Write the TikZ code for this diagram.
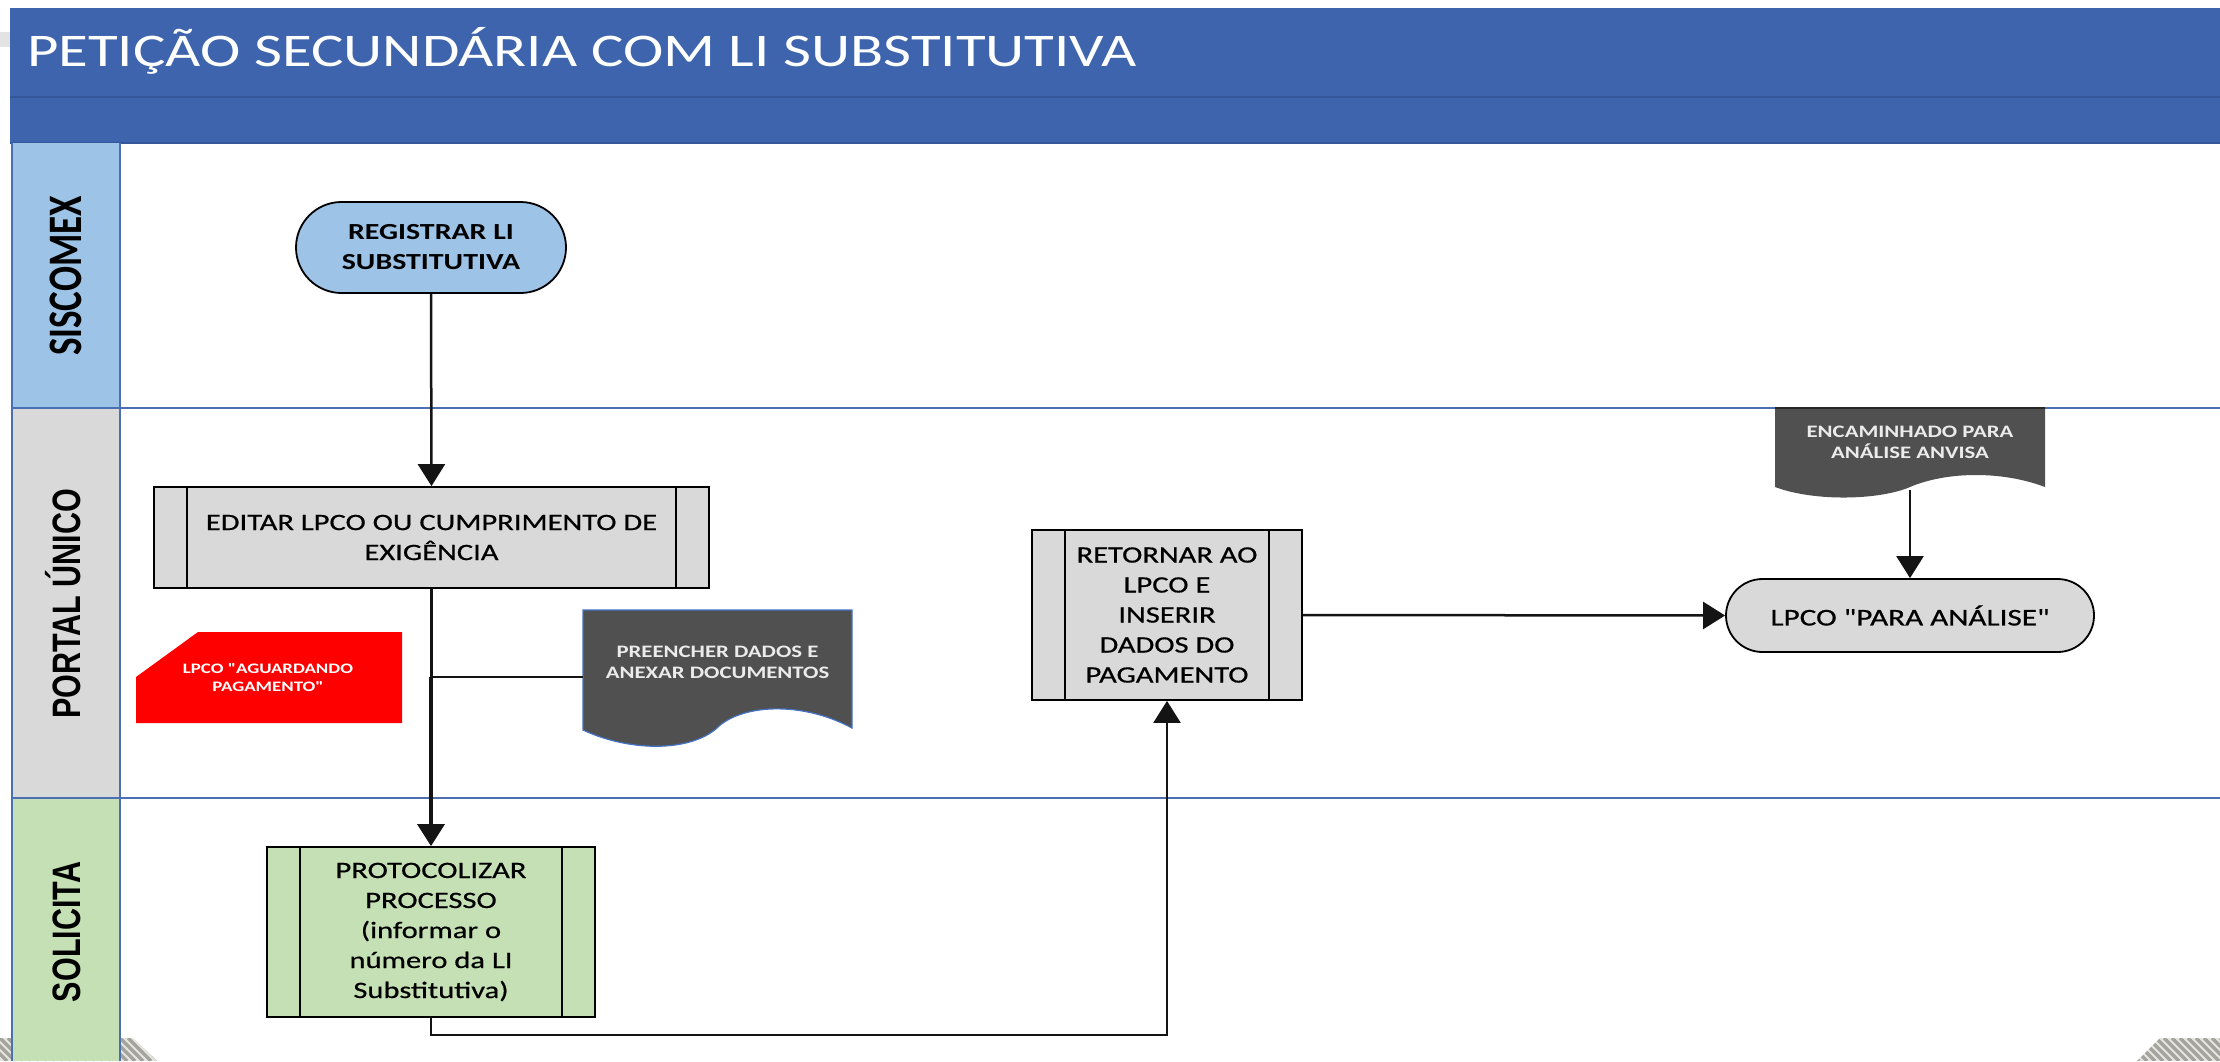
\documentclass[tikz,border=0pt]{standalone}
\usepackage{fontspec}
\usepackage{graphicx}
\setmainfont{Carlito}
\newfontfamily\cfont{Carlito}[FakeStretch=1.3]
\newfontfamily\cbox{Carlito}[FakeStretch=1.3,FakeBold=0.6]
\newfontfamily\lfont{Carlito}
\newfontfamily\afont{Liberation Sans}
\usetikzlibrary{shapes.misc,arrows.meta}
\definecolor{hdrblue}{HTML}{3D64AD}
\definecolor{hdrdark}{HTML}{34579A}
\definecolor{lanecol}{HTML}{4A6FB5}
\definecolor{sisblue}{HTML}{9DC3E6}
\definecolor{boxgray}{HTML}{D9D9D9}
\definecolor{boxgreen}{HTML}{C5E0B4}
\definecolor{docgray}{HTML}{505050}
\definecolor{docedge}{HTML}{4472C4}
\definecolor{hatchdark}{HTML}{A4A49C}
\definecolor{hatchlight}{HTML}{E4E4E0}
\begin{document}
\begin{tikzpicture}[x=1pt,y=-1pt,
  lane/.style={draw=lanecol,line width=2pt},
  procbox/.style={draw=black,line width=1.8pt,inner sep=0pt,align=center,
    font=\cbox\fontsize{23.5}{30}\selectfont,
    path picture={
      \draw[line width=1.8pt] ([xshift=33pt]path picture bounding box.north west) -- ([xshift=33pt]path picture bounding box.south west);
      \draw[line width=1.8pt] ([xshift=-33pt]path picture bounding box.north east) -- ([xshift=-33pt]path picture bounding box.south east);
    }},
  terminal/.style={rounded rectangle,draw=black,line width=1.8pt,inner sep=0pt,align=center},
  doctext/.style={text=white!92!black,align=center,inner sep=0pt,font=\cfont\bfseries\fontsize{17.5}{21}\selectfont},
  lanelabel/.style={rotate=90,inner sep=0pt,text height=31pt,text depth=0pt,font=\lfont\bfseries\fontsize{37}{37}\selectfont},
  lanelabelb/.style={rotate=90,inner sep=0pt,text height=28pt,text depth=0pt,font=\afont\bfseries\fontsize{30.5}{30.5}\selectfont},
  conn/.style={line width=2.5pt,draw=black!92},
  arr/.style={conn,-{Triangle[width=27pt,length=22pt]}}]
\useasboundingbox (0,0) rectangle (2220,1061);
\fill[white] (0,0) rectangle (2220,1061);
% background hatches
\begin{scope}
\clip (0,1038) -- (133,1038) -- (157,1061) -- (0,1061) -- cycle;
\fill[hatchlight] (0,1030) rectangle (160,1061);
\foreach \i in {-40,-32,...,160} \draw[hatchdark,line width=3.5pt] (\i,1038) -- (\i+23,1061);
\end{scope}
\begin{scope}
\clip (2160,1038) -- (2220,1038) -- (2220,1061) -- (2137,1061) -- cycle;
\fill[hatchlight] (2130,1030) rectangle (2220,1061);
\foreach \i in {2100,2108,...,2230} \draw[hatchdark,line width=3.5pt] (\i,1038) -- (\i+23,1061);
\end{scope}
\fill[gray!22] (0,32) rectangle (10,47);
% header
\fill[hdrblue] (10,8) rectangle (2220,143);
\draw[hdrdark,line width=2pt] (10,97) -- (2220,97);
\draw[hdrdark,line width=1.5pt] (10,143) -- (2220,143);
\node[anchor=base west,inner sep=0pt,text=white,font=\cfont\fontsize{46.8}{46.8}\selectfont] (title) at (27,66) {PETIÇÃO SECUNDÁRIA COM LI SUBSTITUTIVA};
% lanes
\fill[sisblue] (12,143) rectangle (120,408);
\fill[boxgray] (12,408) rectangle (120,798);
\fill[boxgreen] (12,798) rectangle (120,1061);
\draw[lane] (12,143) -- (12,1061);
\draw[lane] (120,143) -- (120,1061);
\draw[lane] (12,408) -- (2220,408);
\draw[lane] (12,798) -- (2220,798);
\node[lanelabel] (lsis) at (66,276) {\scalebox{1}[1.3]{SISCOMEX}};
\node[lanelabelb] (lportal) at (66,604) {\scalebox{1}[1.3]{PORTAL ÚNICO}};
\node[lanelabelb] (lsol) at (66,932) {\scalebox{1}[1.3]{SOLICITA}};
% shapes
\node[terminal,fill=sisblue,minimum width=270pt,minimum height=91pt,font=\cfont\bfseries\fontsize{23}{30}\selectfont] (registrar) at (431,247.5) {REGISTRAR LI\\SUBSTITUTIVA};
\node[procbox,fill=boxgray,minimum width=555pt,minimum height=101pt] (editar) at (431.5,537.5) {EDITAR LPCO OU CUMPRIMENTO DE\\EXIGÊNCIA};
\node[procbox,fill=boxgreen,minimum width=328pt,minimum height=170pt] (protocolizar) at (431,932) {PROTOCOLIZAR\\PROCESSO\\(informar o\\número da LI\\Substitutiva)};
\node[procbox,fill=boxgray,minimum width=270pt,minimum height=170pt] (retornar) at (1167,615) {RETORNAR AO\\LPCO E\\INSERIR\\DADOS DO\\PAGAMENTO};
\node[terminal,fill=boxgray,minimum width=368pt,minimum height=73pt,font=\cbox\fontsize{24}{30}\selectfont] (analise) at (1910,615.5) {LPCO "PARA ANÁLISE"};
% red state
\fill[red] (198,632) -- (402,632) -- (402,723) -- (136,723) -- (136,677) -- cycle;
\node[text=white,align=center,inner sep=0pt,font=\cfont\bfseries\fontsize{14.5}{18}\selectfont] (aguardando) at (268,678) {LPCO "AGUARDANDO\\PAGAMENTO"};
% document shapes
\filldraw[fill=docgray,draw=docedge,line width=1.2pt] (583,610) -- (852,610) -- (852,728) .. controls (800,700) and (740,705) .. (717,728) .. controls (690,752) and (630,752) .. (583,730) -- cycle;
\node[doctext,minimum width=269pt] (preencher) at (717.5,662) {PREENCHER DADOS E\\ANEXAR DOCUMENTOS};
\fill[docgray] (1775,408) -- (2045,408) -- (2045,487) .. controls (2000,470) and (1945,472) .. (1910,487) .. controls (1880,500) and (1815,502) .. (1775,487) -- cycle;
\draw[black!85,line width=2pt] (1775,408) -- (2045,408);
\node[doctext,minimum width=270pt,minimum height=96pt] (encaminhado) at (1910,442) {ENCAMINHADO PARA\\ANÁLISE ANVISA};
% connectors
\coordinate (j1) at (431,677);
\coordinate (b1) at (431,1035);
\draw[arr] (registrar.south) -- (editar.north);
\draw[conn] (editar.south) -- (editar.south |- j1);
\draw[conn] (j1) -- (preencher.west |- j1);
\draw[conn,line width=3.5pt,-{Triangle[width=27pt,length=22pt]}] (j1) -- (protocolizar.north);
\draw[arr] (protocolizar.south) -- (protocolizar.south |- b1) -| (retornar.south);
\draw[arr] (retornar.east) -- (analise.west);
\draw[arr] (encaminhado.south) -- (analise.north);
\end{tikzpicture}
\end{document}
